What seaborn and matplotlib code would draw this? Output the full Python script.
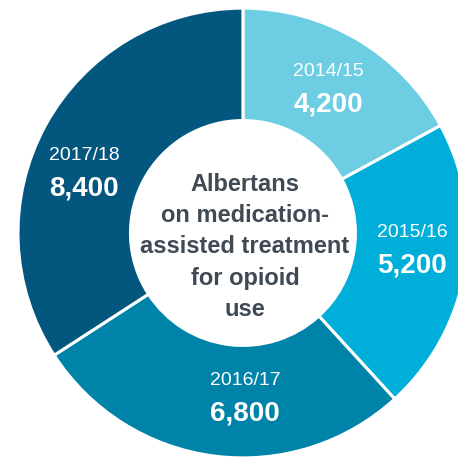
import numpy as np
import matplotlib
matplotlib.use("Agg")
import matplotlib.pyplot as plt
import seaborn as sns

# Data
years = ["2014/15", "2015/16", "2016/17", "2017/18"]
counts = [4200, 5200, 6800, 8400]
colors = ["#6dcde3", "#00aeda", "#0083a9", "#03577f"]
center_text = "Albertans\non medication-\nassisted treatment\nfor opioid\nuse"

# label anchors inside the ring (axes data units)
label_xy = [(0.378, 0.643), (0.751, -0.075), (0.009, -0.732), (-0.707, 0.268)]

sns.set_theme(style="white")
plt.rcParams['font.family'] = ['Liberation Sans', 'DejaVu Sans']

fig = plt.figure(figsize=(4.58, 4.57), dpi=100)
ax = fig.add_axes([0, 0, 1, 1])

wedges, _ = ax.pie(counts, colors=colors, startangle=90, counterclock=False,
                   radius=1.0,
                   wedgeprops=dict(width=0.5, edgecolor="white", linewidth=2.2))

for (x, y), yr, n in zip(label_xy, years, counts):
    ax.text(x, y + 0.075, yr, ha="center", va="center", color="white", fontsize=14)
    ax.text(x, y - 0.07, f"{n:,}", ha="center", va="center", color="white",
            fontsize=20, fontweight="bold")

ax.text(0.009, -0.062, center_text, ha="center", va="center", color="#3f4a55",
        fontsize=17, fontweight="bold", linespacing=1.46)

ax.set_xlim(-1.08, 0.956)
ax.set_ylim(-0.996, 1.036)
ax.set_aspect("auto")
ax.axis("off")

fig.savefig("out.png", dpi=100)
